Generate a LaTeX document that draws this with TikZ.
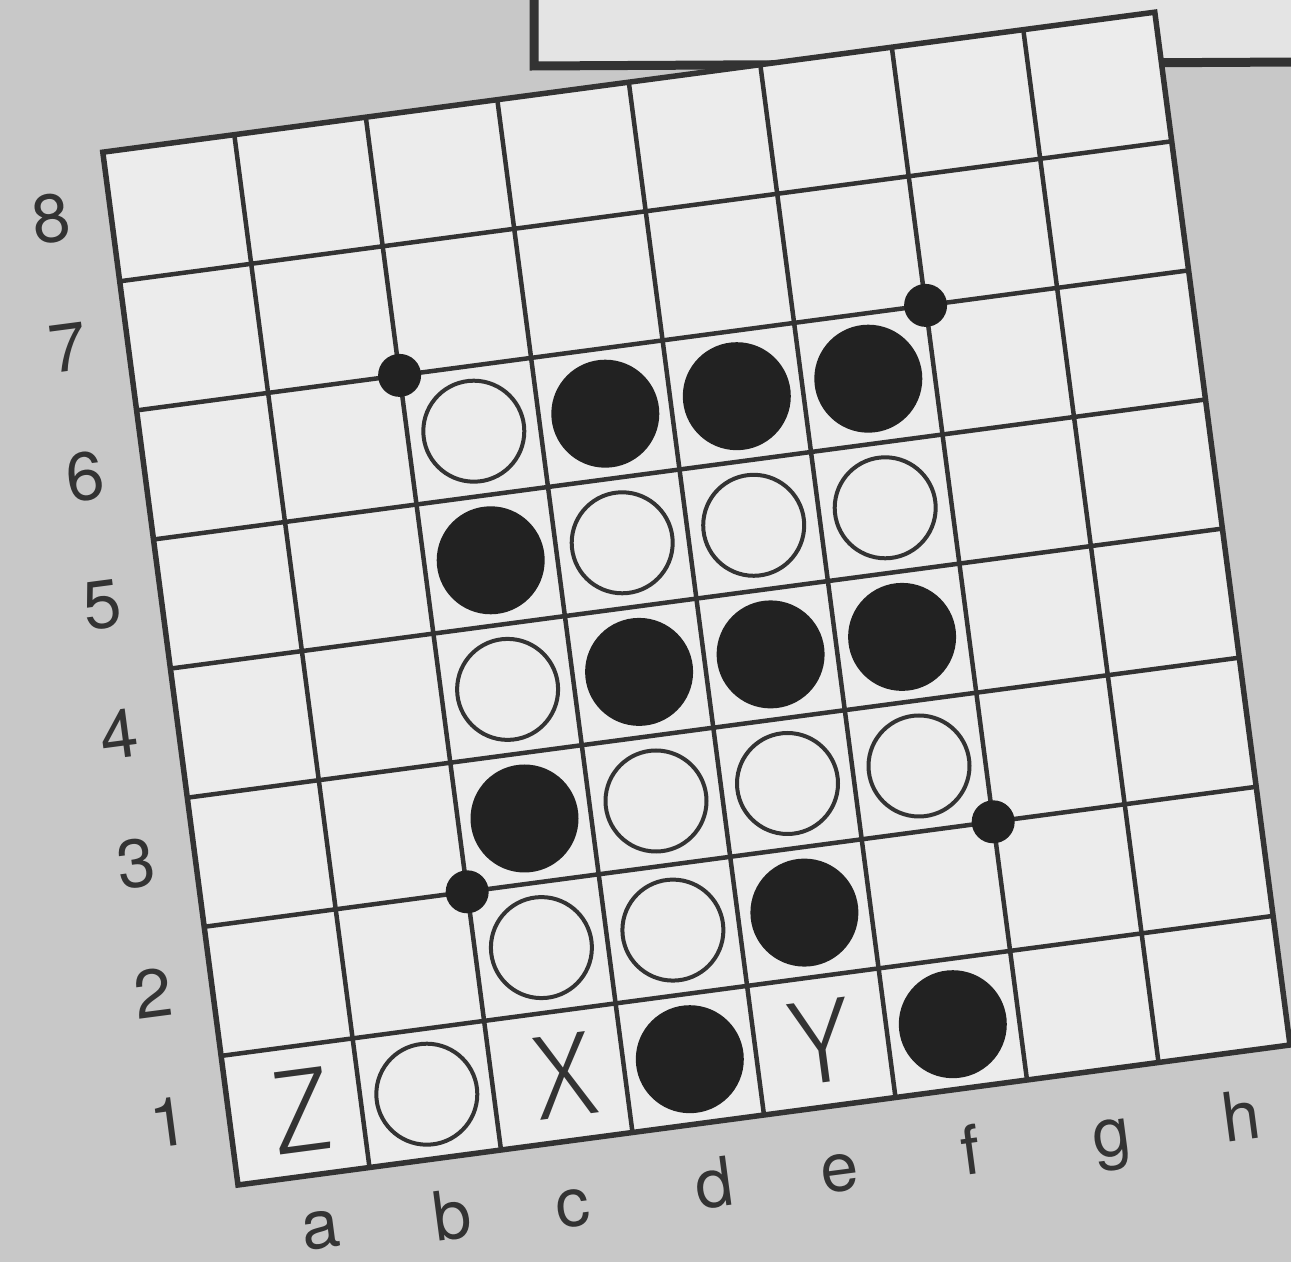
\documentclass[tikz,border=0pt]{standalone}
\usepackage{fontspec}
\setmainfont{TeX Gyre Heros}
\IfFontExistsTF{Fira Sans Light}{\newfontfamily\thinfont{Fira Sans Light}}{\newfontfamily\thinfont{TeX Gyre Heros}}
\definecolor{bgcol}{HTML}{C8C8C8}
\definecolor{boardcol}{HTML}{ECECEC}
\definecolor{boxcol}{HTML}{E4E4E4}
\definecolor{inkcol}{HTML}{333333}
\definecolor{discol}{HTML}{222222}
\tikzset{
  gridline/.style={line width=4.5pt, draw=inkcol},
  frameline/.style={line width=5.5pt, draw=inkcol, line join=miter},
  blackdisc/.style={circle, fill=discol, minimum size=108pt, inner sep=0pt},
  whitedisc/.style={circle, fill=boardcol, draw=inkcol, line width=4pt, minimum size=101pt, inner sep=0pt},
  gdot/.style={circle, fill=discol, minimum size=43pt, inner sep=0pt},
  rowlab/.style={text=inkcol, font=\fontsize{68}{70}\selectfont, rotate=7.5, inner sep=0pt},
  collab/.style={text=inkcol, font=\fontsize{68}{70}\selectfont, rotate=7.5, inner sep=0pt, anchor=base},
  bigletter/.style={text=inkcol, font=\thinfont\fontsize{120}{122}\selectfont, rotate=7.5, inner sep=0pt}
}
\begin{document}
\begin{tikzpicture}[x=1pt,y=1pt]
\useasboundingbox (0,0) rectangle (1291,1262);
\fill[bgcol] (0,0) rectangle (1291,1262);
\begin{scope}
  \clip (0,0) rectangle (1291,1262);
  \fill[boxcol] (534,1197) rectangle (1291,1262);
  \draw[line width=9pt, draw=inkcol, line join=miter] (534,1275) -- (534,1196) -- (1300,1200);
\end{scope}
\begin{scope}[shift={(238,77)}, x={(131.5pt,17.5pt)}, y={(-16.9pt,129.1pt)}]
  \fill[boardcol] (0,0) -- (8,0) -- (8,8) -- (0,8) -- cycle;
  \foreach \k in {1,...,7} {
    \draw[gridline] (\k,0) -- (\k,8);
    \draw[gridline] (0,\k) -- (8,\k);
  }
  \draw[frameline] (0,0) -- (8,0) -- (8,8) -- (0,8) -- cycle;
  % row labels
  \foreach \r in {1,...,8} {
    \node[rowlab] (row\r) at (-0.45,\r-0.45) {\r};
  }
  % column labels
  \node[collab] (cola) at (0.577,-0.57) {a};
  \node[collab] (colb) at (1.570,-0.63) {b};
  \node[collab] (colc) at (2.480,-0.655) {c};
  \node[collab] (cold) at (3.563,-0.655) {d};
  \node[collab] (cole) at (4.514,-0.655) {e};
  \node[collab] (colf) at (5.513,-0.665) {f};
  \node[collab] (colg) at (6.577,-0.665) {g};
  \node[collab] (colh) at (7.563,-0.675) {h};
  % row 1
  \node[bigletter] (za1) at (0.55,0.5) {Z};
  \node[whitedisc] (wb1) at (1.5,0.5) {};
  \node[bigletter] (xc1) at (2.55,0.5) {X};
  \node[blackdisc] (bd1) at (3.5,0.5) {};
  \node[bigletter] (ye1) at (4.5,0.5) {Y};
  \node[blackdisc] (bf1) at (5.5,0.5) {};
  % row 2
  \node[whitedisc] (wc2) at (2.5,1.5) {};
  \node[whitedisc] (wd2) at (3.5,1.5) {};
  \node[blackdisc] (be2) at (4.5,1.5) {};
  % row 3
  \node[blackdisc] (bc3) at (2.5,2.5) {};
  \node[whitedisc] (wd3) at (3.5,2.5) {};
  \node[whitedisc] (we3) at (4.5,2.5) {};
  \node[whitedisc] (wf3) at (5.5,2.5) {};
  % row 4
  \node[whitedisc] (wc4) at (2.5,3.5) {};
  \node[blackdisc] (bd4) at (3.5,3.5) {};
  \node[blackdisc] (be4) at (4.5,3.5) {};
  \node[blackdisc] (bf4) at (5.5,3.5) {};
  % row 5
  \node[blackdisc] (bc5) at (2.5,4.5) {};
  \node[whitedisc] (wd5) at (3.5,4.5) {};
  \node[whitedisc] (we5) at (4.5,4.5) {};
  \node[whitedisc] (wf5) at (5.5,4.5) {};
  % row 6
  \node[whitedisc] (wc6) at (2.5,5.5) {};
  \node[blackdisc] (bd6) at (3.5,5.5) {};
  \node[blackdisc] (be6) at (4.5,5.5) {};
  \node[blackdisc] (bf6) at (5.5,5.5) {};
  % star points
  \node[gdot] (dotbl) at (2,2) {};
  \node[gdot] (dottl) at (2,6) {};
  \node[gdot] (dottr) at (6,6) {};
  \node[gdot] (dotbr) at (6,2) {};
\end{scope}
\end{tikzpicture}
\end{document}
